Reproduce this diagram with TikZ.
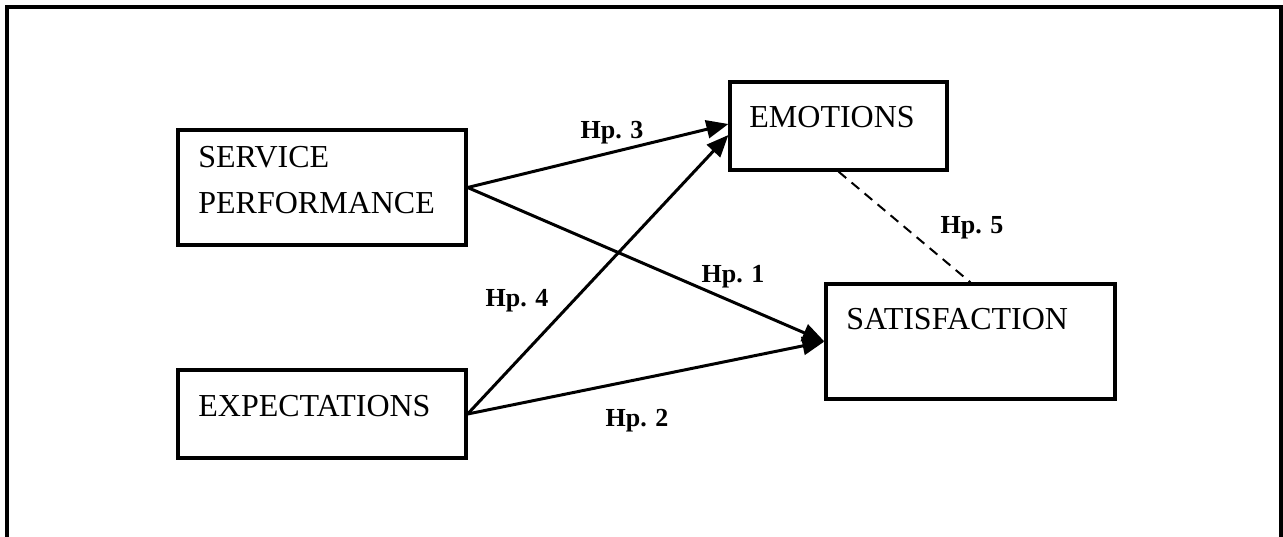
\documentclass[tikz,border=0pt]{standalone}
\usepackage{fontspec}
\setmainfont{Liberation Serif}
\usetikzlibrary{arrows.meta}
\begin{document}
\begin{tikzpicture}[x=0.5pt,y=-0.5pt,
  boxnode/.style={draw,line width=1.6pt,rectangle,inner sep=0pt},
  boxtext/.style={anchor=base west,inner sep=0pt,font=\fontsize{16pt}{19pt}\selectfont},
  hplabel/.style={inner sep=0pt,font=\fontsize{13pt}{15pt}\selectfont\bfseries},
  conn/.style={line width=1.5pt,-{Triangle[length=11pt,width=9pt]}},
  dashconn/.style={line width=1pt,dash pattern=on 5pt off 3.5pt}]
\useasboundingbox (0,0) rectangle (1283,536);
% outer frame (open at the bottom)
\coordinate (fbl) at (7,540);
\coordinate (ftl) at (7,7);
\coordinate (ftr) at (1281,7);
\coordinate (fbr) at (1281,540);
\draw[line width=1.6pt] (fbl) -- (ftl) -- (ftr) -- (fbr);
% boxes
\node[boxnode,minimum width=144pt,minimum height=57.5pt] (sp) at (322,187.5) {};
\node[boxnode,minimum width=144pt,minimum height=44pt] (exp) at (322,414) {};
\node[boxnode,minimum width=108.5pt,minimum height=44pt] (emo) at (838.5,126) {};
\node[boxnode,minimum width=144.5pt,minimum height=57.5pt] (sat) at (970.5,341.5) {};
% box texts
\node[boxtext] (t1) at (198,167) {SERVICE};
\node[boxtext] (t2) at (198,213) {PERFORMANCE};
\node[boxtext] (t3) at (198,416) {EXPECTATIONS};
\node[boxtext] (t4) at (749,127) {EMOTIONS};
\node[boxtext] (t5) at (846,329) {SATISFACTION};
% connectors
\draw[conn] (sp.east) -- ([yshift=1pt]emo.west);
\draw[conn] (sp.east) -- (sat.west);
\draw[conn] (exp.east) -- ([yshift=-4.5pt]emo.west);
\draw[conn] (exp.east) -- (sat.west);
\draw[dashconn] (emo.south) -- (sat.north);
% labels
\node[hplabel] (h3) at (612,133) {Hp. 3};
\node[hplabel] (h1) at (733,277) {Hp. 1};
\node[hplabel] (h4) at (517,301) {Hp. 4};
\node[hplabel] (h2) at (637,421) {Hp. 2};
\node[hplabel] (h5) at (972,228) {Hp. 5};
\end{tikzpicture}
\end{document}
